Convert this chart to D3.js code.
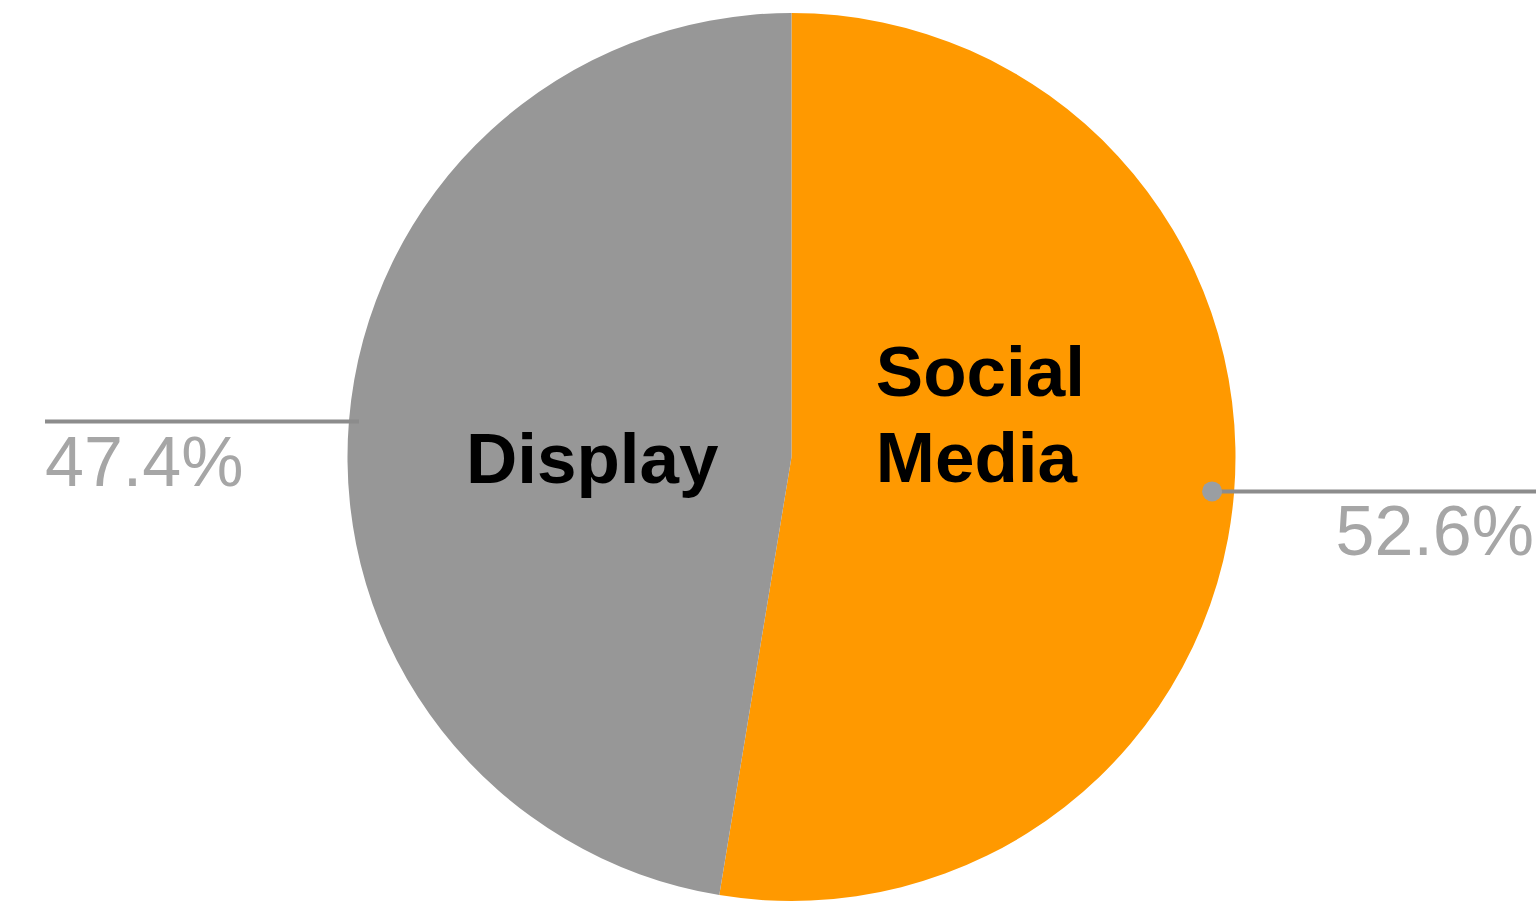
<!DOCTYPE html>
<html>
<head>
<meta charset="utf-8">
<script src="https://cdn.jsdelivr.net/npm/d3@7"></script>
<style>
  html, body { margin: 0; padding: 0; background: #fff; overflow: hidden; }
  svg { display: block; }
</style>
</head>
<body>
<div id="chart"></div>
<script>
// data
const categories = ['Social Media', 'Display'];
const shares = [52.6, 47.4];
const sliceColors = ['#ff9900', '#979797'];
const sliceLabels = [['Social', 'Media'], ['Display']];

const width = 1536;
const height = 905;
const cx = 791.5;
const cy = 457;
const radius = 444;

const svg = d3.select('#chart')
  .append('svg')
  .attr('width', width)
  .attr('height', height);

const g = svg.append('g')
  .attr('transform', `translate(${cx},${cy})`);

const pie = d3.pie().sort(null).value(d => d.value);
const arcs = pie(categories.map((c, i) => ({ name: c, value: shares[i], i })));

const arc = d3.arc().innerRadius(0).outerRadius(radius);
const dotArc = d3.arc().innerRadius(radius - 22).outerRadius(radius - 22);
const edgeArc = d3.arc().innerRadius(radius - 10).outerRadius(radius - 10);
const labelArc = d3.arc().innerRadius(200).outerRadius(200);

// slices
g.selectAll('path.slice')
  .data(arcs)
  .enter()
  .append('path')
  .attr('class', 'slice')
  .attr('d', arc)
  .attr('fill', d => sliceColors[d.data.i]);

// leader lines + percentages
arcs.forEach(d => {
  const mid = (d.startAngle + d.endAngle) / 2;
  const right = Math.sin(mid) > 0;
  const [px, py] = right ? dotArc.centroid(d) : edgeArc.centroid(d);
  const endX = right ? width - cx : 45 - cx;

  g.append('line')
    .attr('x1', px).attr('y1', py)
    .attr('x2', endX).attr('y2', py)
    .attr('stroke', '#8c8c8c')
    .attr('stroke-width', 4);

  if (right) {
    g.append('circle')
      .attr('cx', px).attr('cy', py)
      .attr('r', 10)
      .attr('fill', '#9a9ea2');
  }

  g.append('text')
    .attr('x', right ? width - 2 - cx : endX)
    .attr('y', py + 64)
    .attr('text-anchor', right ? 'end' : 'start')
    .attr('font-family', '"Liberation Sans", Arial, sans-serif')
    .attr('font-size', 70)
    .attr('fill', '#a6a6a6')
    .text(d.data.value.toFixed(1) + '%');
});

// category labels inside slices
arcs.forEach(d => {
  const [lx] = labelArc.centroid(d);
  const lines = sliceLabels[d.data.i];
  const multi = lines.length > 1;
  const t = g.append('text')
    .attr('text-anchor', multi ? 'start' : 'middle')
    .attr('font-family', '"Liberation Sans", Arial, sans-serif')
    .attr('font-weight', 'bold')
    .attr('font-size', 71)
    .attr('fill', '#000');
  const firstY = multi ? -61 : 26;
  lines.forEach((ln, j) => {
    t.append('tspan')
      .attr('x', multi ? lx - 115 : lx)
      .attr('y', firstY + j * 86)
      .text(ln);
  });
});
</script>
</body>
</html>
